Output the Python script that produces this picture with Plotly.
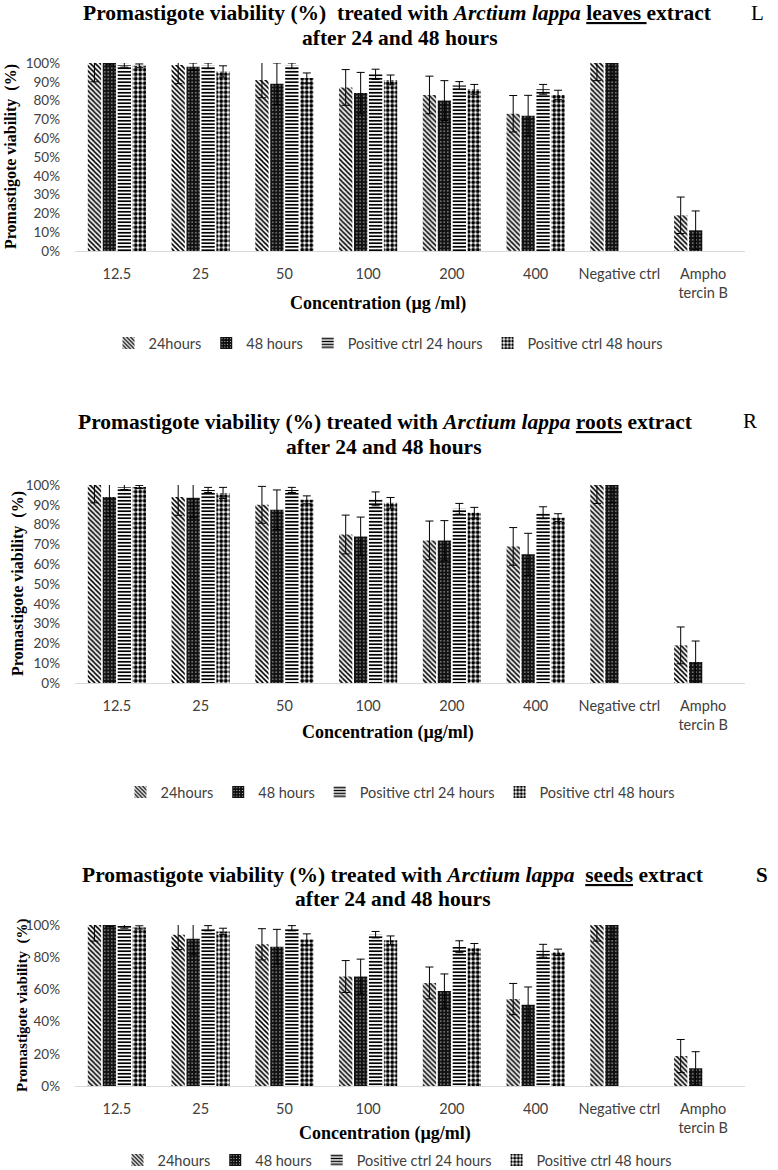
import plotly.graph_objects as go

W, H = 778, 1170


def px(x):
    return x / W


def py(y):
    return 1 - y / H


# ---------------- data ----------------
categories = ["12.5", "25", "50", "100", "200", "400", "Negative ctrl", "Ampho<br>tercin B"]
series_names = ["24hours", "48 hours", "Positive ctrl 24 hours", "Positive ctrl 48 hours"]

# Panel L (leaves)
leaves_24h = [100, 99, 91, 87, 83, 73, 100, 19]
leaves_24h_err = [10, 10, 9.5, 9.5, 10, 9.7, 9.4, 9.7]
leaves_48h = [100, 98, 89, 84, 80, 72, 100, 11]
leaves_48h_err = [1, 2, 11, 11, 10.6, 10.8, 9, 10.3]
leaves_pos24 = [99, 98.5, 98.5, 94, 88, 86, None, None]
leaves_pos24_err = [1.2, 1.5, 1.5, 2.7, 2.1, 2.6, None, None]
leaves_pos48 = [98.5, 95.5, 92, 91, 86, 83, None, None]
leaves_pos48_err = [1, 3, 2.7, 2.6, 2.6, 2.5, None, None]

# Panel R (roots)
roots_24h = [100, 94, 90, 75, 72, 69, 100, 19]
roots_24h_err = [9, 9.3, 9.3, 9.8, 9.8, 9.5, 9.3, 9.3]
roots_48h = [94, 93.5, 87.5, 74, 72, 65, 100, 10.6]
roots_48h_err = [10, 10, 10, 9.8, 10, 10.6, 9, 10.6]
roots_pos24 = [99, 97.5, 97.5, 93, 88, 86, None, None]
roots_pos24_err = [1.3, 1.3, 1.3, 3.5, 2.7, 3, None, None]
roots_pos48 = [99, 96, 92.5, 91, 86, 83.5, None, None]
roots_pos48_err = [0.8, 2.8, 2, 2.7, 2.7, 2, None, None]

# Panel S (seeds)
seeds_24h = [100, 94, 88, 68, 64, 54, 100, 18.6]
seeds_24h_err = [10, 9.3, 9.7, 9.9, 9.9, 9.7, 10, 10.3]
seeds_48h = [100, 91.5, 86.5, 68, 59, 50.5, 100, 11]
seeds_48h_err = [1, 10, 10.8, 10.8, 10.6, 11, 9, 10.3]
seeds_pos24 = [99.5, 98, 98, 94, 86.5, 84, None, None]
seeds_pos24_err = [1.5, 1.6, 1.6, 2, 3.7, 4, None, None]
seeds_pos48 = [98.5, 96, 91, 90.5, 85.5, 83, None, None]
seeds_pos48_err = [1, 2, 3.5, 2.7, 3, 2, None, None]

# ---------------- styling ----------------
patterns = [
    dict(shape="\\", fgcolor="#000000", bgcolor="#ffffff", size=3.5, solidity=0.45),
    dict(shape=".", fgcolor="#ffffff", bgcolor="#111111", size=3.5, solidity=0.1),
    dict(shape="-", fgcolor="#000000", bgcolor="#ffffff", size=3.5, solidity=0.5),
    dict(shape=".", fgcolor="#000000", bgcolor="#ffffff", size=4.5, solidity=0.6),
]

SERIF = "Liberation Serif"
SANS = "Lato"

panels = [
    dict(
        series=[(leaves_24h, leaves_24h_err), (leaves_48h, leaves_48h_err),
                (leaves_pos24, leaves_pos24_err), (leaves_pos48, leaves_pos48_err)],
        top=63, bottom=251, dtick=10,
        title1="<b>Promastigote viability (%)  treated with <i>Arctium lappa</i> <u>leaves </u>extract</b>",
        t1=(398, 13), t2=(400, 38), letter="L", lpos=(757, 13),
        ytitle=(11, 157, 16), xtitle=(378, 304), legend=(388, 343),
        xtext="<b>Concentration (µg /ml)</b>",
    ),
    dict(
        series=[(roots_24h, roots_24h_err), (roots_48h, roots_48h_err),
                (roots_pos24, roots_pos24_err), (roots_pos48, roots_pos48_err)],
        top=485, bottom=683, dtick=10,
        title1="<b>Promastigote viability (%) treated with <i>Arctium lappa</i> <u>roots</u> extract</b>",
        t1=(385, 422), t2=(384, 447), letter="R", lpos=(750, 421),
        ytitle=(18, 584, 16), xtitle=(388, 732), legend=(400, 792),
        xtext="<b>Concentration (µg/ml)</b>",
    ),
    dict(
        series=[(seeds_24h, seeds_24h_err), (seeds_48h, seeds_48h_err),
                (seeds_pos24, seeds_pos24_err), (seeds_pos48, seeds_pos48_err)],
        top=925, bottom=1086, dtick=20,
        title1="<b>Promastigote viability (%) treated with <i>Arctium lappa</i>  <u>seeds</u> extract</b>",
        t1=(393, 875), t2=(393, 899), letter="<b>S</b>", lpos=(762, 875),
        ytitle=(22, 1006, 15), xtitle=(385, 1133), legend=(397, 1160),
        xtext="<b>Concentration (µg/ml)</b>",
    ),
]

fig = go.Figure()
annotations = []
layout = dict(
    template="none",
    width=W, height=H,
    margin=dict(l=0, r=0, t=0, b=0, pad=0, autoexpand=False),
    paper_bgcolor="white", plot_bgcolor="white",
    barmode="group", bargap=0.286, bargroupgap=0.11,
    showlegend=True,
    font=dict(family=SANS, size=13, color="#404040"),
)

for i, p in enumerate(panels):
    n = "" if i == 0 else str(i + 1)
    xa, ya = "x" + n, "y" + n
    leg = "legend" + n
    for k, (vals, errs) in enumerate(p["series"]):
        fig.add_trace(go.Bar(
            x=categories, y=vals, name=series_names[k],
            xaxis=xa, yaxis=ya, legend=leg,
            marker=dict(color="#000000", line=dict(width=0), pattern=patterns[k]),
            error_y=dict(type="data", array=errs, visible=True, color="#000000",
                         thickness=1, width=4),
            hoverinfo="skip",
        ))
    layout["xaxis" + n] = dict(
        domain=[px(75), px(745)], anchor=ya, type="category",
        showline=True, linecolor="#d9d9d9", linewidth=1,
        showgrid=False, zeroline=False, ticks="", automargin=False,
        ticklabelstandoff=10,
        tickfont=dict(family=SANS, size=14.5, color="#404040"),
    )
    layout["yaxis" + n] = dict(
        domain=[py(p["bottom"]), py(p["top"])], anchor=xa,
        range=[0, 100], dtick=p["dtick"], ticksuffix="%",
        showline=False, showgrid=False, zeroline=False, ticks="", automargin=False,
        ticklabelstandoff=14,
        tickfont=dict(family=SANS, size=13.5, color="#404040"),
    )
    layout[leg] = dict(
        orientation="h", x=px(p["legend"][0]), xanchor="center",
        y=py(p["legend"][1]), yanchor="middle",
        font=dict(family=SANS, size=14.5, color="#404040"),
        bgcolor="rgba(0,0,0,0)", itemwidth=30, tracegroupgap=0,
    )
    annotations += [
        dict(text=p["title1"], x=px(p["t1"][0]), y=py(p["t1"][1]),
             font=dict(family=SERIF, size=21.5, color="#000")),
        dict(text="<b>after 24 and 48 hours</b>", x=px(p["t2"][0]), y=py(p["t2"][1]),
             font=dict(family=SERIF, size=21.5, color="#000")),
        dict(text=p["letter"], x=px(p["lpos"][0]), y=py(p["lpos"][1]),
             font=dict(family=SERIF, size=21, color="#000")),
        dict(text="<b>Promastigote viability  (%)</b>", x=px(p["ytitle"][0]),
             y=py(p["ytitle"][1]), textangle=-90,
             font=dict(family=SERIF, size=p["ytitle"][2], color="#000")),
        dict(text=p["xtext"], x=px(p["xtitle"][0]), y=py(p["xtitle"][1]),
             font=dict(family=SERIF, size=18, color="#000")),
    ]

for a in annotations:
    a.update(xref="paper", yref="paper", showarrow=False,
             xanchor="center", yanchor="middle")

layout["annotations"] = annotations
fig.update_layout(**layout)
# remove the browser's default 8px page margin so the figure fills the window
fig.write_html(
    "out.html",
    config={"displayModeBar": False, "staticPlot": True},
    post_script="document.body.style.margin='0px';",
)
